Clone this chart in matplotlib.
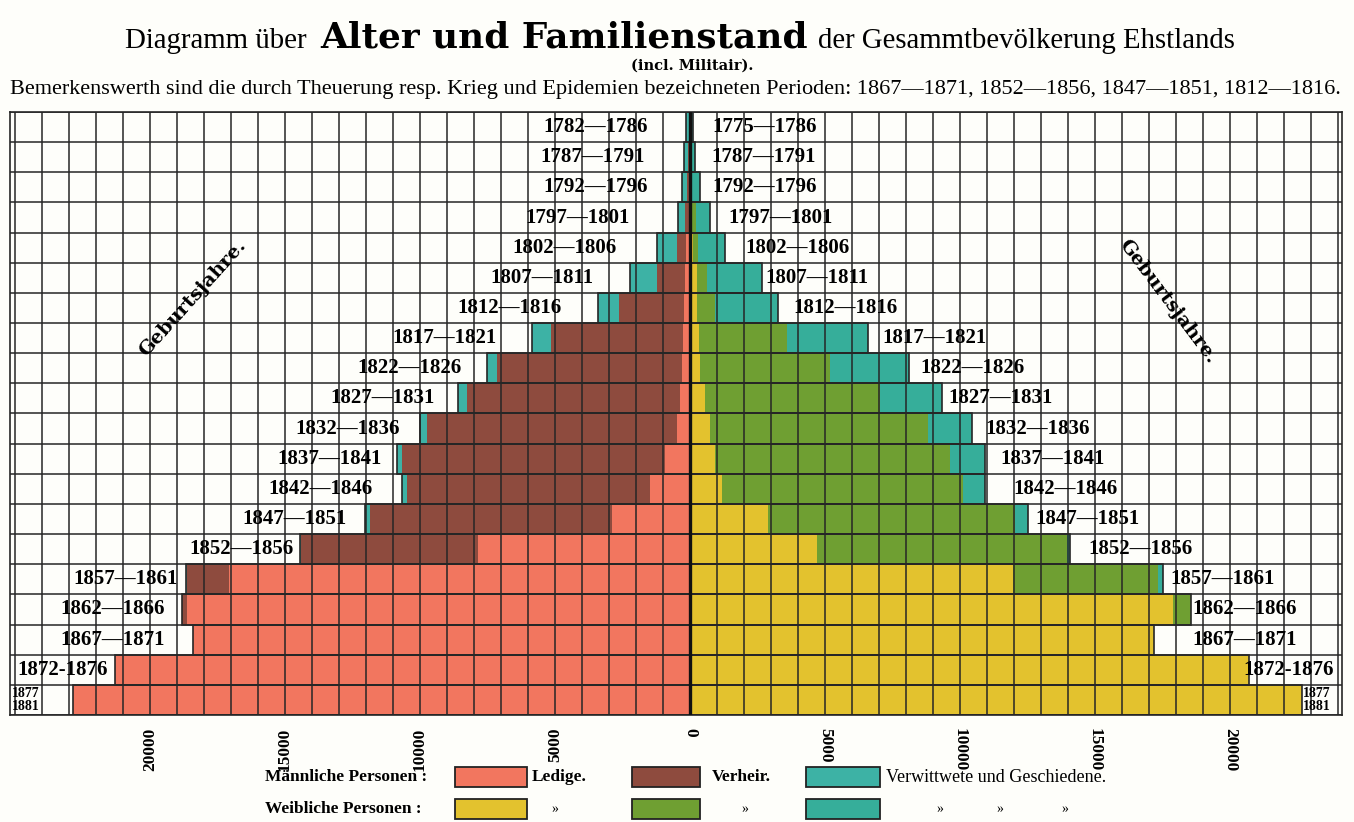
import numpy as np
import matplotlib.pyplot as plt
from matplotlib.patches import Rectangle
from matplotlib.ticker import MultipleLocator, FuncFormatter

# Geburtsjahre, oben die ältesten
m_lab = ["1782—1786", "1787—1791", "1792—1796", "1797—1801", "1802—1806",
         "1807—1811", "1812—1816", "1817—1821", "1822—1826", "1827—1831",
         "1832—1836", "1837—1841", "1842—1846", "1847—1851", "1852—1856",
         "1857—1861", "1862—1866", "1867—1871", "1872-1876", "1877\n1881"]
f_lab = ["1775—1786"] + m_lab[1:]

# Männliche Personen: Ledige, Verheiratete, Verwittwete u. Geschiedene
m_led = [20, 30, 30, 40, 150, 185, 220, 260, 300, 370, 480, 930, 1480, 2890,
         7850, 17070, 18630, 18410, 21300, 22850]
m_ver = [30, 60, 80, 150, 330, 1040, 2410, 4890, 6850, 7890, 9260, 9740, 9000,
         8960, 6560, 1560, 190, 0, 0, 0]
m_wit = [100, 130, 190, 250, 740, 1000, 780, 700, 370, 330, 260, 190, 190, 190,
         40, 20, 0, 0, 0, 0]

# Weibliche Personen
f_led = [10, 10, 20, 40, 110, 260, 260, 330, 370, 560, 740, 930, 1190, 2890,
         4700, 11960, 17890, 17190, 20700, 22670]
f_ver = [10, 20, 40, 180, 190, 370, 670, 3260, 4810, 6480, 8070, 8700, 8930,
         9150, 9260, 5370, 670, 0, 0, 0]
f_wit = [90, 150, 310, 520, 1000, 2040, 2330, 3000, 2930, 2300, 1630, 1300, 810,
         480, 110, 190, 0, 0, 0, 0]

# Abstand der Jahreszahlen vom Balken (Pixel)
gap_m = [38, 39, 34, 48, 40, 36, 36, 35, 25, 23, 20, 15, 29, 18, 6, 9, 17, 28, 7, 33]
gap_f = [19, 17, 12, 18, 20, 3, 15, 14, 11, 6, 13, 15, 28, 7, 18, 7, 1, 38, -6, 1]

C_ML, C_MV, C_MW = "#F2765F", "#8E4B3E", "#3DB2A5"
C_FL, C_FV, C_FW = "#E3C22E", "#6F9F32", "#36AE9A"
GRID = "#262626"
BG = "#FEFEFA"

W, H = 1354, 822
PX = 27.0  # Pixel je 1000 Personen

fig = plt.figure(figsize=(W / 100, H / 100), dpi=100, facecolor=BG)
ax = fig.add_axes([10 / W, 1 - 715 / H, 1332 / W, 603 / H], facecolor=BG)

y = np.arange(len(m_lab))
ml, mv, mw = np.array(m_led), np.array(m_ver), np.array(m_wit)
fl, fv, fw = np.array(f_led), np.array(f_ver), np.array(f_wit)

ax.barh(y, -ml, height=1, color=C_ML, lw=0)
ax.barh(y, -mv, left=-ml, height=1, color=C_MV, lw=0)
ax.barh(y, -mw, left=-(ml + mv), height=1, color=C_MW, lw=0)
ax.barh(y, fl, height=1, color=C_FL, lw=0)
ax.barh(y, fv, left=fl, height=1, color=C_FV, lw=0)
ax.barh(y, fw, left=fl + fv, height=1, color=C_FW, lw=0)
m_tot = ml + mv + mw
f_tot = fl + fv + fw
ax.barh(y, -m_tot, height=1, fill=False, edgecolor=GRID, lw=1.2)
ax.barh(y, f_tot, height=1, fill=False, edgecolor=GRID, lw=1.2)

x0 = -680 / PX * 1000
ax.set_xlim(x0, x0 + 1332 / PX * 1000)
ax.set_ylim(len(y) - 0.5, -0.5)

ax.xaxis.set_minor_locator(MultipleLocator(1000))
ax.set_yticks([])
ax.set_yticks(np.arange(-0.5, len(y), 1), minor=True)
ax.set_axisbelow(False)
ax.grid(which="both", color=GRID, lw=1.1)
ax.axvline(0, color="#111111", lw=2.4, zorder=3)
for s in ax.spines.values():
    s.set_color(GRID)
    s.set_linewidth(1.2)

ticks = np.arange(-20000, 20001, 5000)
ax.set_xticks(ticks)
ax.xaxis.set_major_formatter(FuncFormatter(lambda v, p: f"{abs(int(v))}"))
ax.tick_params(axis="both", which="both", length=0)
ax.tick_params(axis="x", pad=9)
for t, v in zip(ax.get_xticklabels(), ticks):
    t.set_rotation(90 if v < 0 else 270)
    t.set_fontfamily("Liberation Serif")
    t.set_fontweight("bold")
    t.set_fontsize(12.5)

# Jahreszahlen
lab_kw = dict(family="Liberation Serif", fontweight="bold", va="center", zorder=4)
for i in y:
    small = "\n" in m_lab[i]
    fs = 10 if small else 15
    ax.text(-m_tot[i] - gap_m[i] / PX * 1000, i, m_lab[i], ha="right",
            fontsize=fs, linespacing=0.95, **lab_kw)
    ax.text(f_tot[i] + gap_f[i] / PX * 1000, i, f_lab[i], ha="left",
            fontsize=fs, linespacing=0.95, **lab_kw)

gk = dict(family="DejaVu Serif", fontweight="bold", fontsize=14,
          ha="center", va="center")
fig.text(193 / W, 1 - 298 / H, "Geburtsjahre.", rotation=48, **gk)
fig.text(1168 / W, 1 - 302 / H, "Geburtsjahre.", rotation=-53, **gk)

# Überschrift
r = fig.canvas.get_renderer()


def fit(t, width):
    w = t.get_window_extent(r).width
    t.set_fontsize(t.get_fontsize() * width / w)


cond = ["Liberation Sans Narrow", "Liberation Serif"]
t1 = fig.text(125 / W, 1 - 48 / H, "Diagramm über", family=cond,
              fontsize=24, va="baseline")
t2 = fig.text(320 / W, 1 - 48 / H, "Alter und Familienstand", family="DejaVu Serif",
              fontweight="bold", fontsize=22, va="baseline")
t3 = fig.text(818 / W, 1 - 48 / H, "der Gesammtbevölkerung Ehstlands", family=cond,
              fontsize=24, va="baseline")
fit(t1, 182)
fit(t2, 486)
fit(t3, 417)
fig.text(692 / W, 1 - 66 / H, "(incl. Militair).", family="DejaVu Serif",
         fontweight="bold", fontsize=10.5, ha="center", va="center")
t4 = fig.text(10 / W, 1 - 94 / H,
              "Bemerkenswerth sind die durch Theuerung resp. Krieg und Epidemien "
              "bezeichneten Perioden: 1867—1871, 1852—1856, 1847—1851, 1812—1816.",
              family="Liberation Serif", fontsize=14, va="baseline")
fit(t4, 1340)

# Legende
lg = dict(family="Liberation Serif", fontweight="bold", fontsize=12.5, va="center")
fig.text(265 / W, 1 - 777 / H, "Männliche Personen :", **lg)
fig.text(265 / W, 1 - 809 / H, "Weibliche Personen :", **lg)
boxes = [(455, 527), (632, 700), (806, 880)]
for row, cols in ((777, (C_ML, C_MV, C_MW)), (809, (C_FL, C_FV, C_FW))):
    for (a, b), c in zip(boxes, cols):
        fig.add_artist(Rectangle((a / W, 1 - (row + 10) / H), (b - a) / W, 20 / H,
                                 transform=fig.transFigure, facecolor=c,
                                 edgecolor="#222222", lw=1.3))
fig.text(532 / W, 1 - 777 / H, "Ledige.", **lg)
fig.text(712 / W, 1 - 777 / H, "Verheir.", **lg)
fig.text(886 / W, 1 - 777 / H, "Verwittwete und Geschiedene.",
         family="Liberation Serif", fontsize=13, va="center")
for xq in (555, 745, 940, 1000, 1065):
    fig.text(xq / W, 1 - 809 / H, "»", family="Liberation Serif", fontsize=10,
             ha="center", va="center")

fig.savefig("out.png", dpi=100, facecolor=BG)
